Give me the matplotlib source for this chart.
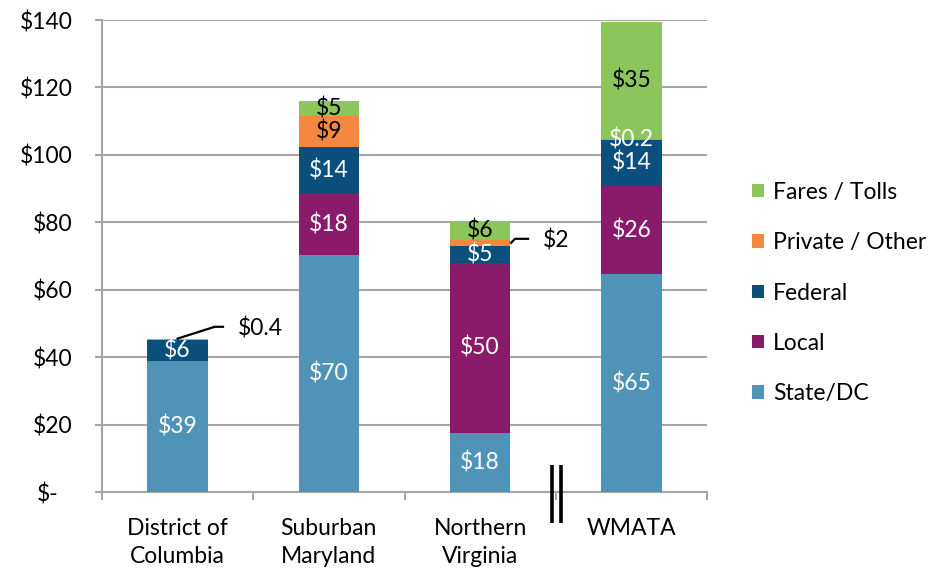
import matplotlib
matplotlib.use("Agg")
import matplotlib.pyplot as plt
import matplotlib.transforms as mtransforms
from matplotlib.patches import Patch
import numpy as np

plt.rcParams['font.family'] = ['Lato', 'DejaVu Sans']

categories = ["District of\nColumbia", "Suburban\nMaryland", "Northern\nVirginia", "WMATA"]
series_names = ["State/DC", "Local", "Federal", "Private / Other", "Fares / Tolls"]
state = [38.9, 70.2, 17.6, 64.6]
local = [0.0, 18.4, 50.4, 26.2]
federal = [6.2, 13.7, 5.1, 13.6]
private = [0.0, 9.2, 1.6, 0.2]
fares = [0.4, 4.6, 5.8, 34.8]
yticks = [0, 20, 40, 60, 80, 100, 120, 140]
ytick_labels = ["$-", "$20", "$40", "$60", "$80", "$100", "$120", "$140"]

colors = ["#4F94B8", "#8A1A6A", "#0B4F7C", "#F5873F", "#8CC65A"]
text_colors = ["white", "white", "white", "black", "black"]

fig = plt.figure(figsize=(9.41, 5.74), dpi=100)
ax = fig.add_axes([102/941, 1-492/574, (707-102)/941, (492-20)/574])

x = np.arange(len(categories))
data = [state, local, federal, private, fares]
bottom = np.zeros(len(categories))
fs = 16.5
external = {(4, 0), (3, 2)}
for si, vals in enumerate(data):
    vals = np.array(vals)
    ax.bar(x, vals, 0.4, bottom=bottom, color=colors[si], zorder=3, linewidth=0)
    for ci, v in enumerate(vals):
        if v <= 0 or (si, ci) in external:
            continue
        lbl = "${:.1f}".format(v) if v < 1 else "${:.0f}".format(v)
        tc = text_colors[si]
        if v < 1:
            tc = "white"
        ax.text(x[ci], bottom[ci] + v / 2, lbl, ha="center", va="center",
                color=tc, fontsize=fs, zorder=5)
    bottom = bottom + vals

# external leader labels
# DC fares $0.4
top_dc = bottom[0]
ax.plot([0.0, 0.245, 0.30], [top_dc, top_dc + 3.5, top_dc + 3.5], color="black", lw=1.6, zorder=6, clip_on=False)
ax.text(0.40, top_dc + 3.0, "$0.4", ha="left", va="center", fontsize=fs, color="black")
# NoVA private $2
pv_top = state[2] + local[2] + federal[2] + private[2] / 2
ax.plot([2.205, 2.23, 2.317], [pv_top, pv_top + 1.2, pv_top + 1.2], color="black", lw=1.6, zorder=6)
ax.text(2.415, pv_top + 0.8, "$2", ha="left", va="center", fontsize=fs, color="black")

# axis break marker
for bx in [2.478, 2.535]:
    ax.plot([bx, bx], [8.0, -9.2], color="black", lw=2.6, clip_on=False, zorder=7,
            solid_capstyle="butt")

ax.set_xlim(-0.5, 3.5)
ax.set_ylim(0, 140)
ax.set_yticks(yticks)
ax.set_yticklabels(ytick_labels, fontsize=fs)
ax.grid(axis="y", color="#A6A6A6", lw=1.5, zorder=0)
ax.set_axisbelow(True)

ax.set_xticks(np.arange(-0.5, 3.6, 1.0))
ax.set_xticklabels([])
ax.set_xticks(x, minor=True)
ax.set_xticklabels(categories, minor=True, fontsize=fs, linespacing=1.4)
ax.tick_params(axis="x", which="minor", length=0, pad=19)
ax.tick_params(axis="x", which="major", length=6, width=1.5, color="#A6A6A6", direction="out")
ax.tick_params(axis="y", length=5, width=1.5, color="#A6A6A6", pad=16)

for s in ["top", "right"]:
    ax.spines[s].set_visible(False)
for s in ["left", "bottom"]:
    ax.spines[s].set_color("#A6A6A6")
    ax.spines[s].set_linewidth(1.5)

# "$-" accounting alignment
zl = ax.get_yticklabels()[0]
zl.set_transform(zl.get_transform() + mtransforms.ScaledTranslation(-14/100, 0, fig.dpi_scale_trans))

handles = [Patch(facecolor=colors[i], edgecolor="none") for i in range(4, -1, -1)]
labels = [series_names[i] for i in range(4, -1, -1)]
leg = fig.legend(handles, labels, loc="center left", bbox_to_anchor=(752/941, 1-293/574),
                 frameon=False, fontsize=fs, handlelength=0.52, handleheight=0.52,
                 handletextpad=0.4, labelspacing=1.28, borderaxespad=0, borderpad=0)

fig.savefig("out.png", dpi=100)
